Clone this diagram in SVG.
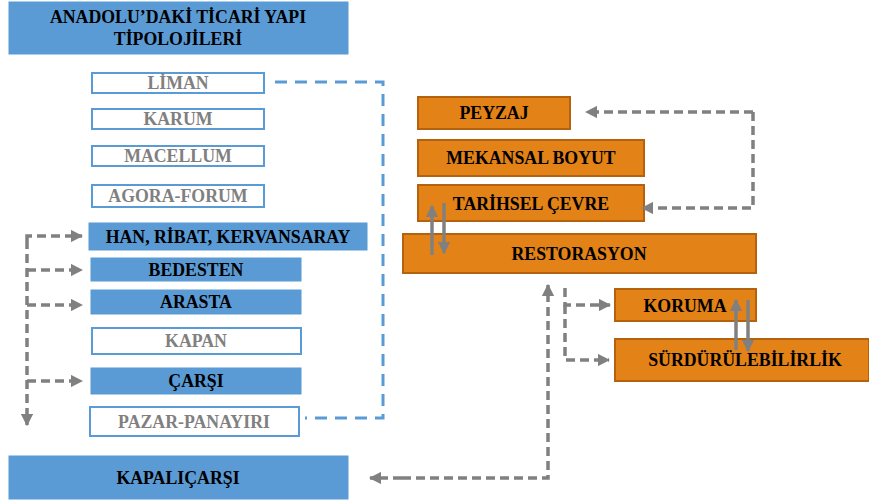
<svg xmlns="http://www.w3.org/2000/svg" width="869" height="502" viewBox="0 0 869 502">
<defs>
<style>
.t{font-family:'Liberation Serif','DejaVu Serif','Times New Roman',serif;font-weight:700;font-size:17.8px;text-anchor:middle;dominant-baseline:central}
.blue{fill:#5B9BD5;stroke:#5B9BD5;stroke-width:1}
.white{fill:#FFFFFF;stroke:#5B9BD5;stroke-width:2}
.org{fill:#E38216;stroke:#B5620E;stroke-width:2}
.dk{fill:#000}
.gy{fill:#808080}
.bd{fill:none;stroke:#5B9BD5;stroke-width:3;stroke-dasharray:12 8}
.gd{fill:none;stroke:#808080;stroke-width:3.5;stroke-dasharray:9 5}
.gs{fill:none;stroke:#808080;stroke-width:3.5}
</style>
<marker id="ah" viewBox="0 0 10 10" refX="9" refY="5" markerWidth="3.5" markerHeight="3.5" orient="auto" markerUnits="strokeWidth">
<path d="M0,0 L10,5 L0,10 z" fill="#808080"/>
</marker>
</defs>

<g id="title"><rect class="blue" x="9" y="2" width="339" height="52"/>
<text class="t dk" x="178" y="17">ANADOLU’DAKİ TİCARİ YAPI</text>
<text class="t dk" x="178" y="39">TİPOLOJİLERİ</text></g>

<g id="liman"><rect class="white" x="92" y="73" width="172" height="20"/><text class="t gy" x="178" y="83">LİMAN</text></g>
<g id="karum"><rect class="white" x="92" y="109" width="172" height="20"/><text class="t gy" x="178" y="119">KARUM</text></g>
<g id="macellum"><rect class="white" x="92" y="146" width="172" height="20"/><text class="t gy" x="178" y="156">MACELLUM</text></g>
<g id="agora"><rect class="white" x="92" y="185" width="172" height="22"/><text class="t gy" x="178" y="196">AGORA-FORUM</text></g>
<g id="han"><rect class="blue" x="89" y="223" width="278" height="27"/><text class="t dk" x="228" y="237">HAN, RİBAT, KERVANSARAY</text></g>
<g id="bedesten"><rect class="blue" x="91" y="258" width="210" height="23"/><text class="t dk" x="196" y="269.5">BEDESTEN</text></g>
<g id="arasta"><rect class="blue" x="91" y="290" width="210" height="24"/><text class="t dk" x="196" y="302">ARASTA</text></g>
<g id="kapan"><rect class="white" x="92" y="328" width="209" height="26"/><text class="t gy" x="196" y="341">KAPAN</text></g>
<g id="carsi"><rect class="blue" x="91" y="368" width="210" height="26"/><text class="t dk" x="196" y="381">ÇARŞI</text></g>
<g id="pazar"><rect class="white" x="90" y="407" width="209" height="29"/><text class="t gy" x="194" y="422">PAZAR-PANAYIRI</text></g>
<g id="kapalicarsi"><rect class="blue" x="9" y="456" width="339" height="43"/><text class="t dk" x="178" y="478">KAPALIÇARŞI</text></g>

<g id="peyzaj"><rect class="org" x="418" y="97" width="152" height="32"/><text class="t dk" x="494" y="113">PEYZAJ</text></g>
<g id="mekansal"><rect class="org" x="418" y="140" width="226" height="36"/><text class="t dk" x="531" y="158">MEKANSAL BOYUT</text></g>
<g id="tarihsel"><rect class="org" x="418" y="185" width="226" height="36"/><text class="t dk" x="531" y="204">TARİHSEL ÇEVRE</text></g>
<g id="restorasyon"><rect class="org" x="403" y="234" width="353" height="39"/><text class="t dk" x="579" y="254">RESTORASYON</text></g>
<g id="koruma"><rect class="org" x="615" y="289" width="141" height="32"/><text class="t dk" x="685" y="306">KORUMA</text></g>
<g id="surdurulebilirlik"><rect class="org" x="615" y="339" width="254" height="42"/><text class="t dk" x="745" y="360">SÜRDÜRÜLEBİLİRLİK</text></g>

<g id="connectors">
<path class="bd" d="M275,82 H383 V418 H305"/>
<path class="gd" d="M27,240 V236 H82" marker-end="url(#ah)"/>
<path class="gd" d="M27,240 V425" marker-end="url(#ah)"/>
<path class="gd" d="M27,270 H82" marker-end="url(#ah)"/>
<path class="gd" d="M27,305 H82" marker-end="url(#ah)"/>
<path class="gd" d="M27,381 H82" marker-end="url(#ah)"/>
<path class="gd" d="M753,112 H586" marker-end="url(#ah)"/>
<path class="gd" d="M753,112 V208 H642" marker-end="url(#ah)"/>
<path class="gs" d="M432,255 V206" marker-end="url(#ah)"/>
<path class="gs" d="M444,203 V253" marker-end="url(#ah)"/>
<path class="gs" d="M736,350 V300" marker-end="url(#ah)"/>
<path class="gs" d="M748,300 V351" marker-end="url(#ah)"/>
<path class="gd" d="M565,288 V305 H610" marker-end="url(#ah)"/>
<path class="gd" d="M565,305 V360 H609" marker-end="url(#ah)"/>
<path class="gd" d="M402,478 H548 V285" marker-end="url(#ah)"/>
<path class="gd" d="M402,478 H370" marker-end="url(#ah)"/>
</g>
</svg>
